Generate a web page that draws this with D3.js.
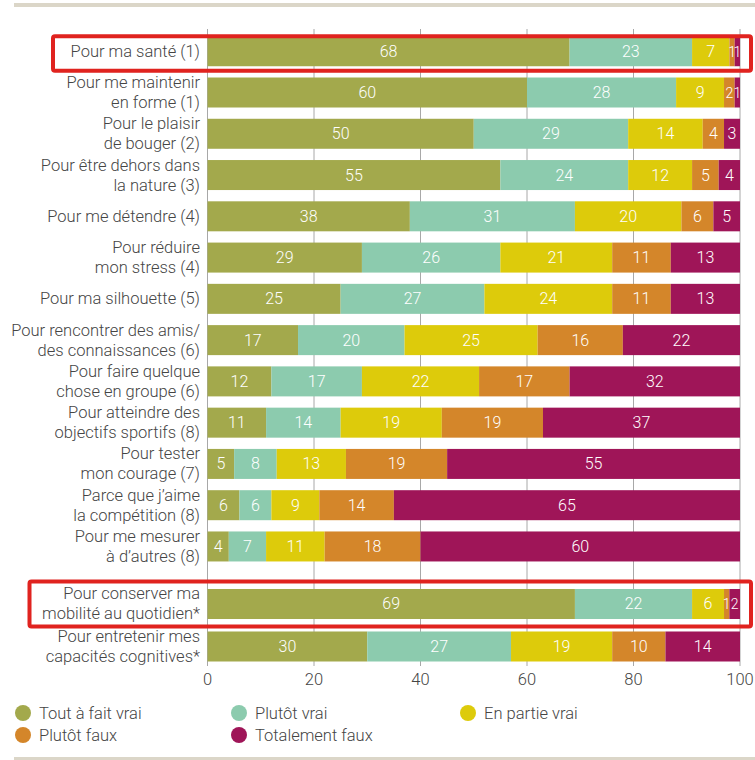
<!DOCTYPE html>
<meta charset="utf-8">
<head>
<script src="https://d3js.org/d3.v7.min.js"></script>
<style>
  body { margin: 0; background: #fff; }
  svg text { font-family: Roboto, "Noto Sans", sans-serif; font-weight: 300; }
</style>
</head>
<body>
<svg id="chart" width="755" height="760"></svg>
<script>
// categories (line breaks as in the original)
const categories = [
  "Pour ma santé (1)",
  "Pour me maintenir\nen forme (1)",
  "Pour le plaisir\nde bouger (2)",
  "Pour être dehors dans\nla nature (3)",
  "Pour me détendre (4)",
  "Pour réduire\nmon stress (4)",
  "Pour ma silhouette (5)",
  "Pour rencontrer des amis/\ndes connaissances (6)",
  "Pour faire quelque\nchose en groupe (6)",
  "Pour atteindre des\nobjectifs sportifs (8)",
  "Pour tester\nmon courage (7)",
  "Parce que j’aime\nla compétition (8)",
  "Pour me mesurer\nà d’autres (8)",
  "Pour conserver ma\nmobilité au quotidien*",
  "Pour entretenir mes\ncapacités cognitives*"
];

// series values (%)
const toutAFaitVrai  = [68, 60, 50, 55, 38, 29, 25, 17, 12, 11,  5,  6,  4, 69, 30];
const plutotVrai     = [23, 28, 29, 24, 31, 26, 27, 20, 17, 14,  8,  6,  7, 22, 27];
const enPartieVrai   = [ 7,  9, 14, 12, 20, 21, 24, 25, 22, 19, 13,  9, 11,  6, 19];
const plutotFaux     = [ 1,  2,  4,  5,  6, 11, 11, 16, 17, 19, 19, 14, 18,  1, 10];
const totalementFaux = [ 1,  1,  3,  4,  5, 13, 13, 22, 32, 37, 55, 65, 60,  2, 14];

const seriesNames = ["Tout à fait vrai", "Plutôt vrai", "En partie vrai", "Plutôt faux", "Totalement faux"];
const seriesKeys = ["a", "b", "c", "d", "e"];
const seriesColors = ["#a3a94c", "#8ccbae", "#ddcb0b", "#d4862a", "#9f1558"];

const xTicks = [0, 20, 40, 60, 80, 100];
const highlightedRows = [0, 13];

// build table for the stack
const table = categories.map((c, i) => ({
  i: i,
  a: toutAFaitVrai[i], b: plutotVrai[i], c: enPartieVrai[i],
  d: plutotFaux[i], e: totalementFaux[i]
}));

const svg = d3.select("#chart");
const textColor = "#454545";

// decorative rules top and bottom
svg.append("rect").attr("x", 14).attr("y", 3).attr("width", 741).attr("height", 4).attr("fill", "#dbd6c8");
svg.append("rect").attr("x", 14).attr("y", 757).attr("width", 741).attr("height", 3).attr("fill", "#dbd6c8");

const x = d3.scaleLinear().domain([0, 100]).range([207.5, 740]);

// two groups of rows, separated by a gap
const yMain = d3.scaleBand().domain(d3.range(0, 13)).range([30.6, 567.1]).paddingInner(0.273).paddingOuter(0.1365);
const yExtra = d3.scaleBand().domain(d3.range(13, 15)).range([582.75, 667.75]).paddingInner(0.294).paddingOuter(0.147);
const yTop = i => i < 13 ? yMain(i) : yExtra(i);
const bw = yMain.bandwidth();
const yMid = i => yTop(i) + bw / 2;

// gridlines
svg.append("g").selectAll("line")
  .data(xTicks)
  .join("line")
  .attr("x1", d => x(d)).attr("x2", d => x(d))
  .attr("y1", 29).attr("y2", 666)
  .attr("stroke", "#a8a8a8").attr("stroke-width", 1);

// bars
const stack = d3.stack().keys(seriesKeys);
const stacked = stack(table);

const layers = svg.append("g").selectAll("g")
  .data(stacked)
  .join("g")
  .attr("fill", (d, k) => seriesColors[k]);

layers.selectAll("rect")
  .data(d => d)
  .join("rect")
  .attr("x", d => x(d[0]))
  .attr("y", d => yTop(d.data.i))
  .attr("width", d => x(d[1]) - x(d[0]))
  .attr("height", bw);

// value labels (slivers of 1-2 % get a slightly smaller label)
layers.selectAll("text")
  .data(d => d)
  .join("text")
  .attr("x", d => (x(d[0]) + x(d[1])) / 2)
  .attr("y", d => yMid(d.data.i) + 5.5)
  .attr("text-anchor", "middle")
  .attr("fill", "#fff")
  .attr("font-size", d => (d[1] - d[0]) <= 2 ? 14 : 16)
  .text(d => d[1] - d[0]);

// category labels
const labels = svg.append("g").selectAll("text")
  .data(categories)
  .join("text")
  .attr("text-anchor", "end")
  .attr("fill", textColor)
  .attr("font-size", 16.5)
  .attr("y", (d, i) => {
    const n = d.split("\n").length;
    return yMid(i) + 5.5 - (n - 1) * 10;
  });
labels.each(function(d) {
  const lines = d.split("\n");
  d3.select(this).selectAll("tspan")
    .data(lines)
    .join("tspan")
    .attr("x", 200)
    .attr("dy", (l, j) => j === 0 ? 0 : 20)
    .text(l => l);
});

// x axis labels
svg.append("g").selectAll("text")
  .data(xTicks)
  .join("text")
  .attr("x", d => x(d))
  .attr("y", 685)
  .attr("text-anchor", "middle")
  .attr("fill", textColor)
  .attr("font-size", 16.5)
  .text(d => d);

// red highlight boxes
const boxLeft = { 0: 53, 13: 29.5 };
const boxPad = { 0: [15, 19.5], 13: [22.5, 22.5] };
svg.append("g").selectAll("rect")
  .data(highlightedRows)
  .join("rect")
  .attr("x", d => boxLeft[d])
  .attr("y", d => yMid(d) - boxPad[d][0])
  .attr("width", d => 751 - boxLeft[d])
  .attr("height", d => boxPad[d][0] + boxPad[d][1])
  .attr("rx", 2)
  .attr("fill", "none")
  .attr("stroke", "#e0231f")
  .attr("stroke-width", 4);

// legend
const legendPos = [[23, 713], [239, 713], [468, 713], [23, 735], [239, 735]];
const legend = svg.append("g").selectAll("g")
  .data(seriesNames)
  .join("g")
  .attr("transform", (d, k) => `translate(${legendPos[k][0]},${legendPos[k][1]})`);
legend.append("circle").attr("r", 8).attr("fill", (d, k) => seriesColors[k]);
legend.append("text")
  .attr("x", 16).attr("y", 5.5)
  .attr("fill", textColor)
  .attr("font-size", 16.5)
  .text(d => d);
</script>
</body>
